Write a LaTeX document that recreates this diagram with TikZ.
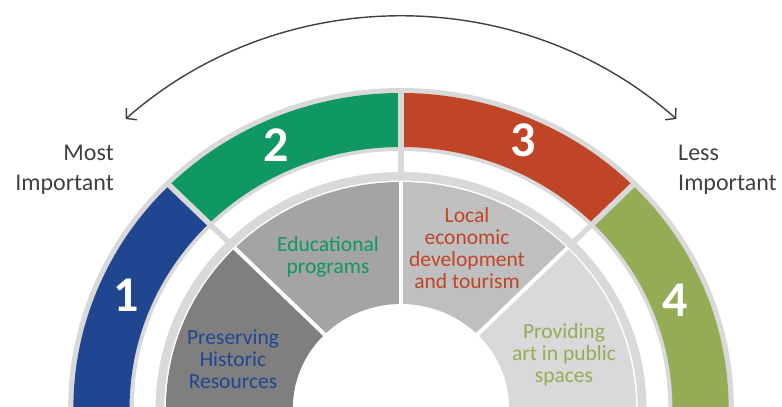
\documentclass[tikz,border=0pt]{standalone}
\usepackage{fontspec}
\setmainfont{Carlito}
\usetikzlibrary{arrows.meta}
\definecolor{cblue}{RGB}{33,70,145}
\definecolor{cgreen}{RGB}{15,152,97}
\definecolor{cred}{RGB}{192,69,39}
\definecolor{colive}{RGB}{148,172,85}
\definecolor{ringgray}{RGB}{217,217,217}
\definecolor{sgA}{RGB}{127,127,127}
\definecolor{sgB}{RGB}{165,164,164}
\definecolor{sgC}{RGB}{191,191,191}
\definecolor{sgD}{RGB}{217,217,217}
\definecolor{txtgray}{RGB}{64,64,64}
\newcommand{\annsec}[4]{(#3:#2) arc[start angle=#3, end angle=#4, radius=#2] -- (#4:#1) arc[start angle=#4, end angle=#3, radius=#1] -- cycle}
\tikzset{
  numlbl/.style={text=white, font=\fontsize{50}{50}\selectfont\bfseries, inner sep=0pt},
  seclbl/.style={align=center, font=\fontsize{21.5}{22}\selectfont, inner sep=0pt},
  sidelbl/.style={text=txtgray, font=\fontsize{24}{30}\selectfont, inner sep=0pt},
  barb/.tip={Straight Barb[length=7pt,width=16pt]}
}
\begin{document}
\begin{tikzpicture}[x=1pt,y=1pt]
\useasboundingbox (0,0) rectangle (782,407);
\clip (0,0) rectangle (782,407);
\begin{scope}[shift={(401,-1)}, xscale=1.04]
  % gray base ring
  \fill[ringgray] \annsec{227.5}{320}{0}{180};
  % coloured segments
  \fill[cblue]  \annsec{261}{315}{135}{180};
  \fill[cgreen] \annsec{261}{315}{90}{135};
  \fill[cred]   \annsec{261}{315}{45}{90};
  \fill[colive] \annsec{261}{315}{0}{45};
  % white band
  \fill[white] \annsec{236}{257}{0}{180};
  % gray gaps
  \foreach \a in {45,90,135}
    \draw[ringgray, line width=5.5pt] (\a:232) -- (\a:318);
  % inner sectors
  \fill[sgA] \annsec{104}{226}{135}{180};
  \fill[sgB] \annsec{104}{226}{90}{135};
  \fill[sgC] \annsec{104}{226}{45}{90};
  \fill[sgD] \annsec{104}{226}{0}{45};
  \foreach \a in {45,90,135}
    \draw[white, line width=4pt] (\a:100) -- (\a:226.5);
  % arrow
  \coordinate (arrR) at (47.5:392);
  \coordinate (arrL) at (132.5:392);
  \draw[txtgray, line width=1.4pt, barb-barb] (arrR) arc[start angle=47.5, end angle=132.5, radius=392];
\end{scope}
\node[numlbl] (n1) at (126,112) {1};
\node[numlbl] (n2) at (276,262) {2};
\node[numlbl] (n3) at (523.5,266.5) {3};
\node[numlbl] (n4) at (675.5,107) {4};
\node[seclbl, text=cblue] (s1) at (233,47.5) {Preserving\\Historic\\Resources};
\node[seclbl, text=cgreen] (s2) at (328,150) {Educational\\programs};
\node[seclbl, text=cred] (s3) at (467,159) {Local\\economic\\development\\and tourism};
\node[seclbl, text=colive] (s4) at (564,52.5) {Providing\\art in public\\spaces};
\node[sidelbl, align=right, anchor=east] (most) at (114,237.5) {Most\\Important};
\node[sidelbl, align=left, anchor=west] (less) at (678,237.5) {Less\\Important};
\end{tikzpicture}
\end{document}
